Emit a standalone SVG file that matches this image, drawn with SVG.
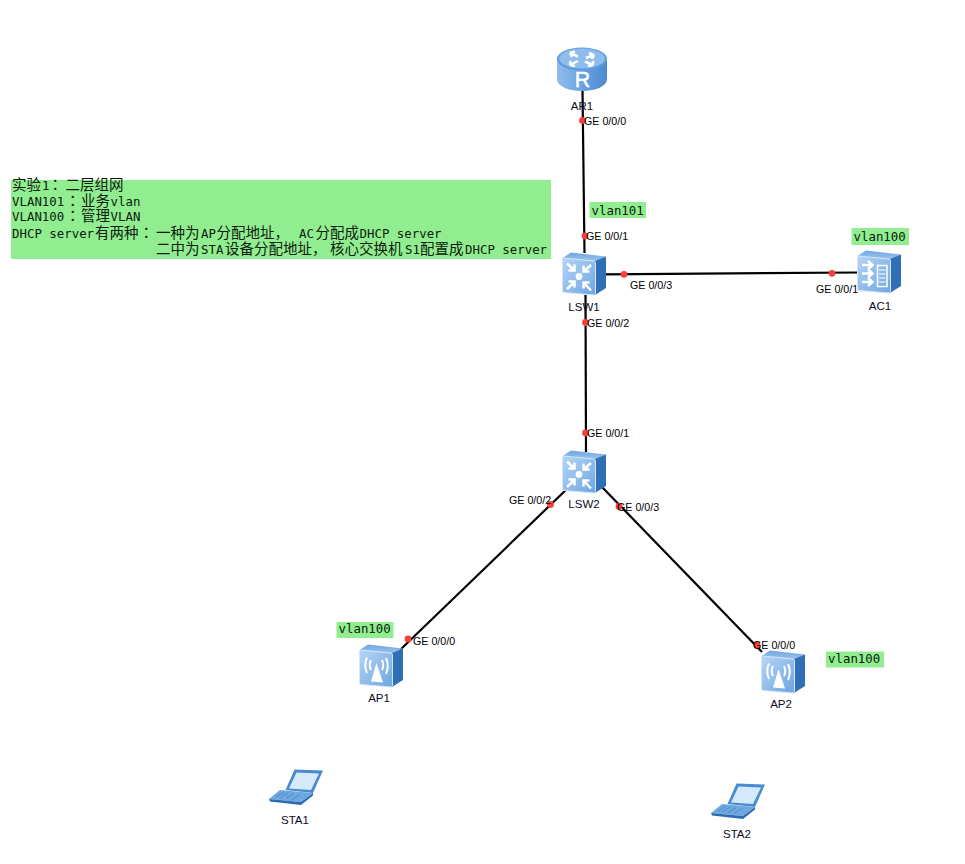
<svg xmlns="http://www.w3.org/2000/svg" width="965" height="864" viewBox="0 0 965 864">
<style>
.link{stroke:#000;stroke-width:2.2;fill:none}
.dot{fill:#f8403a}
.lbl{font:10.7px "Liberation Sans",Arial,sans-serif;fill:#000}
.name{font:11.5px "Liberation Sans",Arial,sans-serif;fill:#0b0b20;text-anchor:middle}
.note{fill:#90ee90}
.m{font:12.4px "DejaVu Sans Mono","Liberation Mono",monospace;fill:#0c1a0c}
.c{font:14.5px "Noto Sans CJK SC",sans-serif;fill:#0c1a0c}
.j{font:14.5px "Noto Sans CJK JP",sans-serif;fill:#0c1a0c}
.w{fill:none;stroke:#fff;stroke-width:2.5;stroke-linecap:butt;stroke-linejoin:miter}
.wf{fill:#fff}
</style>
<defs>
<linearGradient id="front" x1="0" y1="0" x2="1" y2="1"><stop offset="0" stop-color="#b5d5f6"/><stop offset="1" stop-color="#6ea5e2"/></linearGradient>
<linearGradient id="top" x1="0" y1="0" x2="0" y2="1"><stop offset="0" stop-color="#6fa6df"/><stop offset="1" stop-color="#9cc4ee"/></linearGradient>
<linearGradient id="cyl" x1="0" y1="0" x2="1" y2="0"><stop offset="0" stop-color="#8fbdea"/><stop offset=".5" stop-color="#6aa3e0"/><stop offset="1" stop-color="#4c8ad0"/></linearGradient>
<g id="box">
<polygon points="0.5,6 9,0.5 44,4.5 33,9.5" fill="url(#top)"/>
<polygon points="33,9 44,4.5 44,36 33,43" fill="#2f6fb5"/>
<path d="M1.5,6 L31.5,9 Q33.5,9.2 33.5,11 L33.5,41.5 Q33.5,43 32,43 L2,40.5 Q0.5,40.3 0.5,39 L0.5,7 Q0.5,6 1.5,6Z" fill="url(#front)" stroke="#d3e6fa" stroke-width="1"/>
</g>
<g id="sw">
<use href="#box"/>
<circle cx="17" cy="24.5" r="3.4" class="wf"/>
<path class="w" d="M5,11.5 L12.5,18.5 M6.5,18.5 H12.5 V12.5"/>
<path class="w" d="M29,13 L21.5,19.5 M21.5,13.5 V19.5 H27.5"/>
<path class="w" d="M5,37 L12.5,30 M6.5,29.5 H12.5 V35.5"/>
<path class="w" d="M29,38.5 L21.5,30.5 M21.5,36.5 V30.5 H27.5"/>
</g>
<g id="ap">
<use href="#box"/>
<polygon points="17.5,19 12,37.5 24,38.5" class="wf"/>
<path fill="none" stroke="#fff" stroke-width="2" d="M12,16 Q9.5,21 12,26 M23,16 Q25.5,21 23,26 M8,13.5 Q4.5,21 8,29 M27,14 Q30.5,21.5 27,30"/>
</g>
<g id="ac">
<use href="#box"/>
<path class="w" stroke-width="2" d="M5,15 H15 M11,11 L15.5,15 L11,19 M5,23.5 H15 M11,19.5 L15.5,23.5 L11,27.5 M5,32 H15 M11,28 L15.5,32 L11,36"/>
<rect x="20.5" y="15.5" width="9.5" height="21" fill="none" stroke="#fff" stroke-width="1.5"/>
<path d="M22,20 H28.5 M22,24 H28.5 M22,28 H28.5 M22,32 H28.5" stroke="#fff" stroke-width="1.1"/>
</g>
<g id="pc">
<polygon points="16.5,22 25.5,1.5 54,2.5 44,25" fill="#4a8bcf"/>
<polygon points="20,20.5 27.5,4.5 50,5.5 42,22" fill="#d4e9fb"/>
<polygon points="0,31 11,22 44,25 32,34" fill="#6fa8de"/>
<polygon points="0,31 32,34 32,37 1,33.5" fill="#2c6cb2"/>
<polygon points="32,34 44,25 44,27.5 32,37" fill="#2c6cb2"/>
<path d="M7,29 L15,24 M11,30 L19,25 M17,30.5 L25,25.5 M23,31.5 L31,26.5" stroke="#4a8bcf" stroke-width="1"/>
</g>
</defs>

<g id="connectors">
<path class="link" d="M582.5,90 L584.5,253"/>
<path class="link" d="M585.5,295 L586,452"/>
<path class="link" d="M604,274.3 L858,272.5"/>
<path class="link" d="M569,487 L400,650"/>
<path class="link" d="M602,487 L762,652"/>
</g>

<g id="AR1">
<path d="M557,59 V79 C557,86 568,91 582,91 C596,91 607,86 607,79 V59Z" fill="url(#cyl)"/>
<ellipse cx="582" cy="59" rx="25" ry="11.5" fill="#5f9bdc"/>
<ellipse cx="582" cy="58.5" rx="23" ry="10" fill="#8ebcec"/>
<path class="w" stroke-width="1.8" d="M570,53 L578,56.5 M570,53 L575,51.5 M570,53 L572,57 M594,55 L586,58 M594,55 L589,53 M594,55 L592,59 M570,65 L578,61 M570,65 L575,66 M570,65 L570.5,61 M593,65 L585,61.5 M593,65 L593,61 M593,65 L588,66"/>
<text x="582.5" y="87" font-family="'Liberation Sans',Arial,sans-serif" font-size="21.5" fill="#fff" stroke="#fff" stroke-width=".5" text-anchor="middle">R</text>
<text class="name" x="582" y="110">AR1</text>
</g>

<g id="LSW1"><use href="#sw" x="562" y="252"/><text class="name" x="584" y="311">LSW1</text></g>
<g id="LSW2"><use href="#sw" x="562" y="450"/><text class="name" x="584" y="508">LSW2</text></g>
<g id="AC1"><use href="#ac" x="857" y="250"/><text class="name" x="880" y="310">AC1</text></g>
<g id="AP1"><use href="#ap" x="359" y="644"/><text class="name" x="379" y="702">AP1</text></g>
<g id="AP2"><use href="#ap" x="761" y="650"/><text class="name" x="781" y="708">AP2</text></g>
<g id="STA1"><use href="#pc" x="269" y="768"/><text class="name" x="295" y="824">STA1</text></g>
<g id="STA2"><use href="#pc" x="711" y="782"/><text class="name" x="737" y="838">STA2</text></g>

<g id="ports">
<circle class="dot" cx="582.5" cy="120.5" r="3.4"/>
<circle class="dot" cx="585" cy="236" r="3.4"/>
<circle class="dot" cx="585.5" cy="322.5" r="3.4"/>
<circle class="dot" cx="624" cy="274.3" r="3.4"/>
<circle class="dot" cx="832" cy="273.3" r="3.4"/>
<circle class="dot" cx="585.5" cy="433" r="3.4"/>
<circle class="dot" cx="550.5" cy="504.5" r="3.4"/>
<circle class="dot" cx="619" cy="506.5" r="3.4"/>
<circle class="dot" cx="408" cy="639" r="3.4"/>
<circle class="dot" cx="757" cy="645" r="3.4"/>
<text class="lbl" x="584" y="124.5">GE 0/0/0</text>
<text class="lbl" x="586" y="240">GE 0/0/1</text>
<text class="lbl" x="587" y="327">GE 0/0/2</text>
<text class="lbl" x="630" y="289">GE 0/0/3</text>
<text class="lbl" x="816" y="293">GE 0/0/1</text>
<text class="lbl" x="587" y="437">GE 0/0/1</text>
<text class="lbl" x="509" y="503.5">GE 0/0/2</text>
<text class="lbl" x="617" y="511">GE 0/0/3</text>
<text class="lbl" x="413" y="645">GE 0/0/0</text>
<text class="lbl" x="753" y="649">GE 0/0/0</text>
</g>

<g id="note-main">
<rect class="note" x="11" y="180" width="540" height="79"/>
<text y="190"><tspan class="c" x="12">实验</tspan><tspan class="m" x="42">1</tspan><tspan class="j" x="48">：</tspan><tspan class="c" x="65.5">二层组网</tspan></text>
<text y="206"><tspan class="m" x="12">VLAN101</tspan><tspan class="j" x="65.5">：</tspan><tspan class="c" x="81">业务</tspan><tspan class="m" x="110.5">vlan</tspan></text>
<text y="221"><tspan class="m" x="12">VLAN100</tspan><tspan class="j" x="65.5">：</tspan><tspan class="c" x="81">管理</tspan><tspan class="m" x="110.5">VLAN</tspan></text>
<text y="237.5"><tspan class="m" x="12">DHCP server</tspan><tspan class="c" x="95">有两种</tspan><tspan class="j" x="139">：</tspan><tspan class="c" x="156">一种为</tspan><tspan class="m" x="201">AP</tspan><tspan class="c" x="216.5">分配地址，</tspan><tspan class="m" x="299">AC</tspan><tspan class="c" x="315.5">分配成</tspan><tspan class="m" x="359.5">DHCP server</tspan></text>
<text y="253.5"><tspan class="c" x="156">二中为</tspan><tspan class="m" x="201">STA</tspan><tspan class="c" x="225">设备分配地址，</tspan><tspan class="c" x="330">核心交换机</tspan><tspan class="m" x="405">S1</tspan><tspan class="c" x="420">配置成</tspan><tspan class="m" x="465">DHCP server</tspan></text>
</g>

<g id="note-vlan101"><rect class="note" x="589.5" y="202" width="56.5" height="16"/><text class="m" x="591.5" y="214.5">vlan101</text></g>
<g id="note-ac1"><rect class="note" x="851.5" y="228" width="57.5" height="17"/><text class="m" x="853.5" y="240.5">vlan100</text></g>
<g id="note-ap1"><rect class="note" x="336.5" y="622" width="57" height="16"/><text class="m" x="338.5" y="632.5">vlan100</text></g>
<g id="note-ap2"><rect class="note" x="826" y="651.5" width="58" height="16"/><text class="m" x="828" y="662.5">vlan100</text></g>
</svg>
